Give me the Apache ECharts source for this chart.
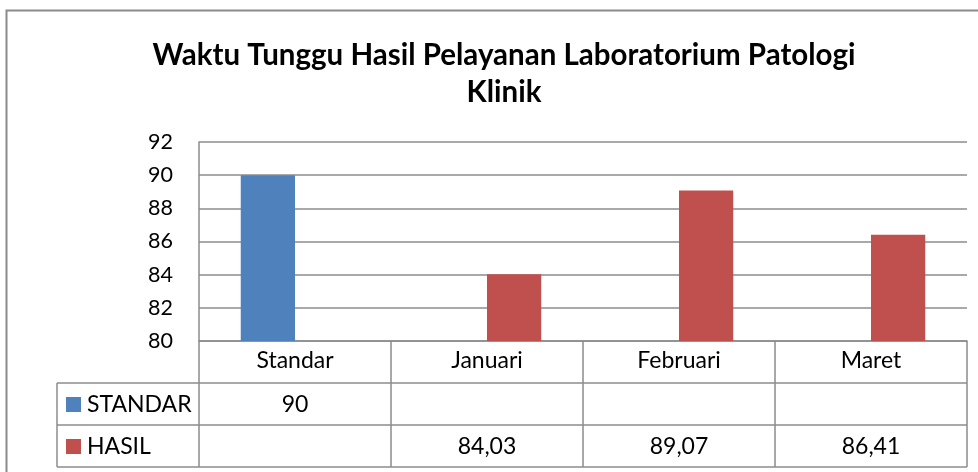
<!DOCTYPE html>
<html>
<head>
<meta charset="utf-8">
<script src="https://cdn.jsdelivr.net/npm/echarts@6/dist/echarts.min.js"></script>
<style>
  html, body { margin: 0; padding: 0; background: #fff; }
  #chart { width: 978px; height: 472px; }
</style>
</head>
<body>
<div id="chart"></div>
<script>
const categories = ["Standar", "Januari", "Februari", "Maret"];
const seriesNames = ["STANDAR", "HASIL"];
const standar = [90, null, null, null];
const hasil = [null, 84.03, 89.07, 86.41];
const seriesColors = ["#4F81BD", "#C0504D"];

const fontFam = "Lato";
const lineColor = "#8c8c8c";

// table rows under the plot
const plotLeft = 199, plotRight = 967, plotTop = 142, plotBottom = 341;
const rowH = 42;
const tableLeft = 57;
const tableFont = 23;

const chart = echarts.init(document.getElementById("chart"));

function fmt(v) {
  return String(v).replace(".", ",");
}

chart.setOption({
  animation: false,
  textStyle: { fontFamily: fontFam },
  title: {
    text: "Waktu Tunggu Hasil Pelayanan Laboratorium Patologi\nKlinik",
    left: 499,
    top: 32,
    textAlign: "center",
    textStyle: {
      fontFamily: fontFam,
      fontSize: 29.5,
      fontWeight: "bold",
      color: "#000",
      lineHeight: 37
    }
  },
  grid: {
    left: plotLeft,
    top: plotTop,
    right: 978 - plotRight,
    bottom: 472 - plotBottom
  },
  xAxis: {
    type: "category",
    data: categories,
    axisLine: { lineStyle: { color: lineColor, width: 1.5 } },
    axisTick: { show: true, length: rowH * 3, lineStyle: { color: lineColor, width: 1.5 } },
    axisLabel: { color: "#000", fontSize: tableFont, margin: 8, fontFamily: fontFam }
  },
  yAxis: {
    type: "value",
    min: 80,
    max: 92,
    interval: 2,
    axisLine: { show: true, lineStyle: { color: lineColor, width: 1.5 } },
    axisTick: { show: false },
    axisLabel: { color: "#000", fontSize: 21.5, margin: 26, fontFamily: fontFam },
    splitLine: { lineStyle: { color: lineColor, width: 1.5 } }
  },
  series: [
    {
      name: seriesNames[0],
      type: "bar",
      data: standar,
      itemStyle: { color: seriesColors[0] },
      barGap: "0%",
      barCategoryGap: "43.5%"
    },
    {
      name: seriesNames[1],
      type: "bar",
      data: hasil,
      itemStyle: { color: seriesColors[1] },
      barGap: "0%",
      barCategoryGap: "43.5%"
    }
  ]
});

// data table built from the arrays, positioned on the category axis
const rows = [standar, hasil];
const graphics = [];

// outer chart frame
graphics.push({
  type: "rect",
  shape: { x: 6.5, y: 10.5, width: 1100, height: 600 },
  style: { fill: null, stroke: "#8a8a8a", lineWidth: 2 },
  silent: true
});

rows.forEach((vals, r) => {
  const yTop = plotBottom + rowH * (r + 1);
  // horizontal line at top of row
  graphics.push({
    type: "line",
    shape: { x1: tableLeft, y1: yTop, x2: plotRight, y2: yTop },
    style: { stroke: lineColor, lineWidth: 1.5 }
  });
  // legend key + name
  graphics.push({
    type: "rect",
    shape: { x: tableLeft + 9, y: yTop + rowH / 2 - 7, width: 15, height: 15 },
    style: { fill: seriesColors[r] }
  });
  graphics.push({
    type: "text",
    x: tableLeft + 30,
    y: yTop + rowH / 2 + 1,
    style: {
      text: seriesNames[r],
      fontFamily: fontFam,
      fontSize: tableFont,
      fill: "#000",
      verticalAlign: "middle"
    }
  });
  vals.forEach((v, i) => {
    if (v == null) return;
    const x = chart.convertToPixel({ xAxisIndex: 0 }, categories[i]);
    graphics.push({
      type: "text",
      x: x,
      y: yTop + rowH / 2 + 1,
      style: {
        text: fmt(v),
        fontFamily: fontFam,
        fontSize: tableFont,
        fill: "#000",
        align: "center",
        verticalAlign: "middle"
      }
    });
  });
});
// bottom line and left edge of table
graphics.push({
  type: "line",
  shape: { x1: tableLeft, y1: plotBottom + rowH * 3, x2: plotRight, y2: plotBottom + rowH * 3 },
  style: { stroke: lineColor, lineWidth: 1.5 }
});
graphics.push({
  type: "line",
  shape: { x1: tableLeft, y1: plotBottom + rowH, x2: tableLeft, y2: plotBottom + rowH * 3 },
  style: { stroke: lineColor, lineWidth: 1.5 }
});

chart.setOption({ graphic: graphics });
</script>
</body>
</html>
